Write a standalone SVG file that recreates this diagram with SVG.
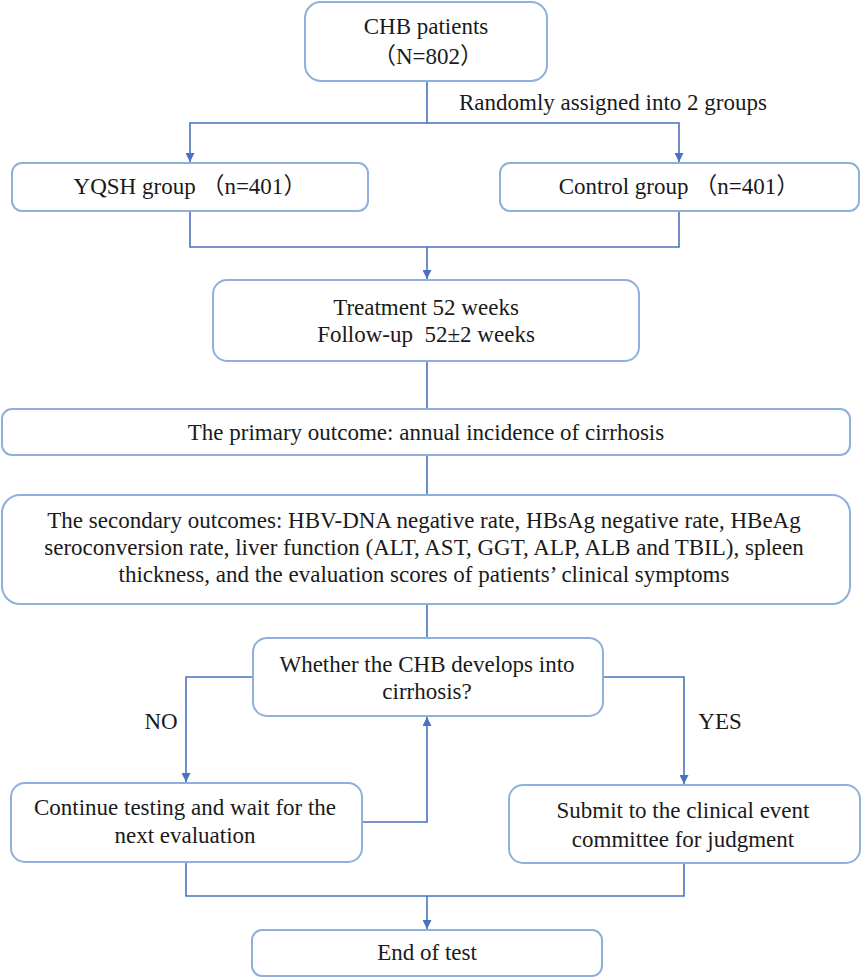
<svg xmlns="http://www.w3.org/2000/svg" width="862" height="980" viewBox="0 0 862 980" font-family="'Liberation Serif', Tinos, 'Times New Roman', Times, 'Noto Serif', 'DejaVu Serif', serif">
<defs>
<style>
.box{fill:#fff;stroke:#8fb0dc;stroke-width:2}
.ln{fill:none;stroke:#4a72c0;stroke-width:1.6}
.t{font-size:23px;fill:#1a1a1a;text-anchor:middle}
.cjk{font-family:"Noto Sans CJK SC",sans-serif}
</style>
<marker id="ah" viewBox="0 0 10 10" refX="10" refY="5" markerWidth="9" markerHeight="9" markerUnits="userSpaceOnUse" orient="auto">
<path d="M0,0 L10,5 L0,10 z" fill="#4a72c0"/>
</marker>
</defs>
<rect width="862" height="980" fill="#fff"/>
<g id="connectors">
<path class="ln" d="M427,81 V123 H190 V162" marker-end="url(#ah)"/>
<path class="ln" d="M427,123 H679 V162" marker-end="url(#ah)"/>
<path class="ln" d="M190,211 V247 H679 V211"/>
<path class="ln" d="M427,247 V279" marker-end="url(#ah)"/>
<path class="ln" d="M427,361 V409"/>
<path class="ln" d="M427,455 V495"/>
<path class="ln" d="M427,604 V638"/>
<path class="ln" d="M253,677 H186 V782" marker-end="url(#ah)"/>
<path class="ln" d="M603,677 H684 V784" marker-end="url(#ah)"/>
<path class="ln" d="M362,822 H427 V717" marker-end="url(#ah)"/>
<path class="ln" d="M186,862 V896 H684 V863"/>
<path class="ln" d="M427,896 V929" marker-end="url(#ah)"/>
<text class="t" x="613" y="110">Randomly assigned into 2 groups</text>
<text class="t" x="161" y="729">NO</text>
<text class="t" x="720" y="729">YES</text>
</g>
<g id="n1"><rect class="box" x="305" y="2" width="242" height="79" rx="16"/>
<text class="t" x="426" y="34">CHB patients</text><text class="t" x="428" y="64"><tspan class="cjk">（</tspan>N=802<tspan class="cjk">）</tspan></text></g>
<g id="n2"><rect class="box" x="12" y="163" width="356" height="48" rx="10"/>
<text class="t" x="190" y="194">YQSH group <tspan class="cjk">（</tspan>n=401<tspan class="cjk">）</tspan></text></g>
<g id="n3"><rect class="box" x="500" y="163" width="359" height="48" rx="10"/>
<text class="t" x="679" y="194">Control group <tspan class="cjk">（</tspan>n=401<tspan class="cjk">）</tspan></text></g>
<g id="n4"><rect class="box" x="213" y="280" width="426" height="81" rx="14"/>
<text class="t" x="426" y="315">Treatment 52 weeks</text><text class="t" x="426" y="342" xml:space="preserve">Follow-up  52±2 weeks</text></g>
<g id="n5"><rect class="box" x="2" y="409" width="848" height="46" rx="10"/>
<text class="t" x="426" y="440">The primary outcome: annual incidence of cirrhosis</text></g>
<g id="n6"><rect class="box" x="2" y="495" width="848" height="109" rx="18"/>
<text class="t" x="424" y="528">The secondary outcomes: HBV-DNA negative rate, HBsAg negative rate, HBeAg</text>
<text class="t" x="424" y="555">seroconversion rate, liver function (ALT, AST, GGT, ALP, ALB and TBIL), spleen</text>
<text class="t" x="424" y="582">thickness, and the evaluation scores of patients’ clinical symptoms</text></g>
<g id="n7"><rect class="box" x="253" y="638" width="350" height="78" rx="14"/>
<text class="t" x="427" y="672">Whether the CHB develops into</text><text class="t" x="427" y="699">cirrhosis?</text></g>
<g id="n8"><rect class="box" x="11" y="783" width="351" height="79" rx="14"/>
<text class="t" x="185" y="815">Continue testing and wait for the</text><text class="t" x="185" y="843">next evaluation</text></g>
<g id="n9"><rect class="box" x="509" y="785" width="351" height="78" rx="14"/>
<text class="t" x="683" y="818">Submit to the clinical event</text><text class="t" x="683" y="847">committee for judgment</text></g>
<g id="n10"><rect class="box" x="252" y="930" width="350" height="46" rx="10"/>
<text class="t" x="427" y="960">End of test</text></g>
</svg>
